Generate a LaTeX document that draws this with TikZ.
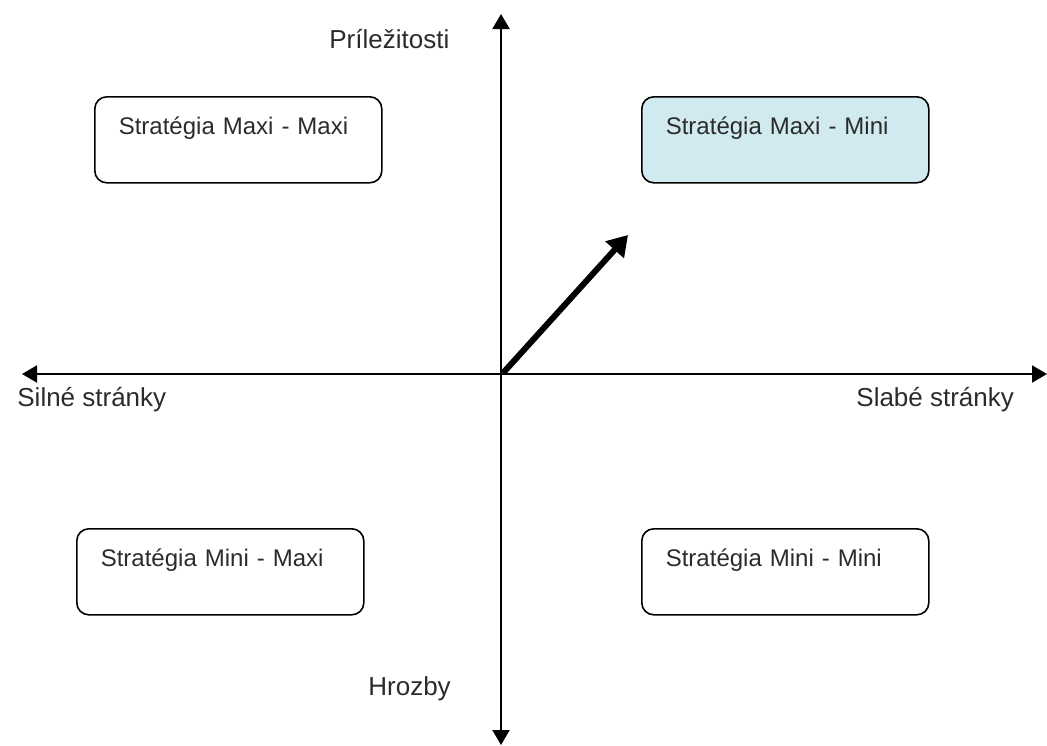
\documentclass[tikz,border=0pt]{standalone}
\usepackage{fontspec}
\setmainfont{Liberation Sans}
\usepackage{xcolor}
\usetikzlibrary{arrows.meta,positioning}
\definecolor{ink}{HTML}{000000}
\definecolor{txt}{HTML}{2B2B2B}
\definecolor{pale}{HTML}{D0EAF0}
\tikzset{
  axis/.style={draw=ink, line width=1pt, -{Triangle[length=7.5pt, width=8.5pt]}},
  push/.style={draw=ink, line width=3pt, -{Triangle[length=10pt, width=12pt]}},
  box/.style={draw=ink, line width=0.8pt, rounded corners=6pt, anchor=north west,
    inner xsep=12pt, inner ysep=0pt, text width=119.5pt, align=left,
    text height=19pt, text depth=24pt, text=txt, font=\fontsize{12}{14}\selectfont},
  boxhi/.style={box, fill=pale},
  lab/.style={text=txt, anchor=base west, inner sep=0pt, font=\fontsize{13}{15}\selectfont},
}
\begin{document}
\begin{tikzpicture}[x=0.5pt, y=-0.5pt]
\useasboundingbox (0,0) rectangle (1047,745);
\coordinate (O) at (501,374);
\coordinate (W) at (22,374);
\coordinate (E) at (1047,374);
\coordinate (N) at (501,14);
\coordinate (S) at (501,745);
\draw[axis] (O) -- (W);
\draw[axis] (O) -- (E);
\draw[axis] (O) -- (N);
\draw[axis] (O) -- (S);
\node[lab] (opp) at (329,48) {Príležitosti};
\node[lab] (thr) at (368,695) {Hrozby};
\node[lab] (str) at (17,406) {Silné stránky};
\node[lab] (wea) at (856,406) {Slabé stránky};
\node[box] (maxmax) at (94,96) {Stratégia Maxi - Maxi};
\node[boxhi] (maxmin) at (641,96) {Stratégia Maxi - Mini};
\node[box] (minmax) at (76,528) {Stratégia Mini - Maxi};
\node[box] (minmin) at (641,528) {Stratégia Mini - Mini};
\coordinate (start) at (503,373);
\coordinate (aim) at (628,235);
\draw[push] (start) -- (aim);
\end{tikzpicture}
\end{document}
